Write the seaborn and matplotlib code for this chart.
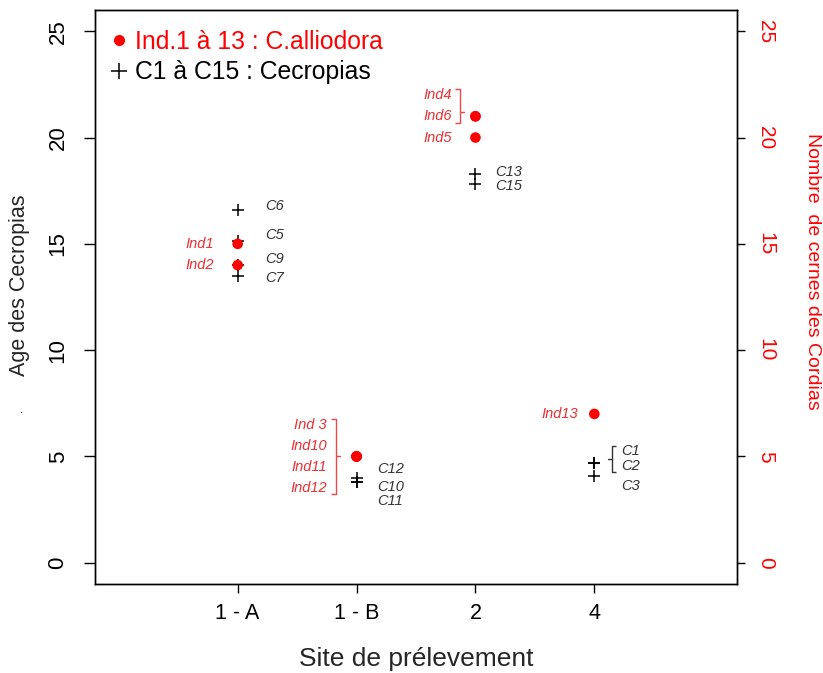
import matplotlib
matplotlib.use("Agg")
import matplotlib.pyplot as plt
import seaborn as sns
import pandas as pd
from matplotlib.lines import Line2D

# --- data ---
sites = ["1 - A", "1 - B", "2", "4"]

cordia_site = ["1 - A", "1 - A", "1 - B", "1 - B", "1 - B", "1 - B", "2", "2", "2", "4"]
cordia_id = ["Ind1", "Ind2", "Ind 3", "Ind10", "Ind11", "Ind12", "Ind4", "Ind6", "Ind5", "Ind13"]
cordia_rings = [15, 14, 5, 5, 5, 5, 21, 21, 20, 7]

cecropia_site = ["1 - A", "1 - A", "1 - A", "1 - A", "1 - B", "1 - B", "1 - B",
                 "2", "2", "4", "4", "4"]
cecropia_id = ["C6", "C5", "C9", "C7", "C12", "C10", "C11", "C13", "C15", "C1", "C2", "C3"]
cecropia_age = [16.6, 15.15, 14, 13.5, 4.0, 3.8, 3.8, 18.3, 17.8, 4.7, 4.7, 4.1]

# label placement (layout only)
cordia_label_y = [15, 14, 6.5, 5.5, 4.5, 3.5, 22, 21, 20, 7]
cordia_label_dx = {"1 - A": -0.2, "1 - B": -0.25, "2": -0.2, "4": -0.14}
cecropia_label_y = [16.8, 15.4, 14.3, 13.4, 4.43, 3.58, 2.92, 18.4, 17.7, 5.24, 4.53, 3.63]
cecropia_label_dx = {"1 - A": 0.23, "1 - B": 0.17, "2": 0.17, "4": 0.23}

pos = {s: i + 1 for i, s in enumerate(sites)}
cordia = pd.DataFrame({"site": cordia_site, "id": cordia_id, "rings": cordia_rings})
cordia["x"] = cordia["site"].map(pos)
cecropia = pd.DataFrame({"site": cecropia_site, "id": cecropia_id, "age": cecropia_age})
cecropia["x"] = cecropia["site"].map(pos)

RED = "#FF0000"
LABEL_RED = "#EE2E31"
LABEL_GREY = "#333333"

sns.set_style("white")
plt.rcParams["font.family"] = ["Liberation Sans", "DejaVu Sans"]

fig = plt.figure(figsize=(8.23, 6.73), dpi=100)
ax = fig.add_axes([95 / 823, 1 - 584 / 673, 642 / 823, 574 / 673])

sns.scatterplot(data=cecropia, x="x", y="age", marker="+", s=72, color="black",
                linewidth=1.1, ax=ax, legend=False, zorder=3)
sns.scatterplot(data=cordia, x="x", y="rings", marker="o", s=58, color=RED,
                edgecolor="none", ax=ax, legend=False, zorder=4)

ax.set_xlim(-0.2, 5.2)
ax.set_ylim(-1, 26)
ax.set_xticks(range(1, len(sites) + 1))
ax.set_xticklabels(sites, fontsize=15.5)
ax.set_yticks(range(0, 26, 5))
ax.set_yticklabels([str(v) for v in range(0, 26, 5)], rotation=90, va="center", fontsize=16)
ax.set_xlabel("")
ax.set_ylabel("")
ax.tick_params(axis="x", direction="out", length=6.5, width=1, pad=7, bottom=True, colors="black")
ax.tick_params(axis="y", direction="out", length=8, width=1, pad=11, left=True, colors="black")
for sp in ax.spines.values():
    sp.set_visible(True)
    sp.set_color("black")
    sp.set_linewidth(1)

ax2 = ax.twinx()
ax2.set_ylim(ax.get_ylim())
ax2.set_yticks(range(0, 26, 5))
ax2.set_yticklabels([str(v) for v in range(0, 26, 5)], rotation=-90, va="center",
                    fontsize=15, color=RED)
ax2.tick_params(axis="y", direction="out", length=6, width=1, pad=8, right=True, colors="black",
                labelcolor=RED)
for sp in ax2.spines.values():
    sp.set_color("black")
    sp.set_linewidth(1)

# point labels
for i, row in cordia.iterrows():
    ax.text(row["x"] + cordia_label_dx[row["site"]], cordia_label_y[i], row["id"],
            ha="right", va="center", fontsize=10.5, style="italic", color=LABEL_RED)
for i, row in cecropia.iterrows():
    ax.text(row["x"] + cecropia_label_dx[row["site"]], cecropia_label_y[i], row["id"],
            ha="left", va="center", fontsize=10.5, style="italic", color=LABEL_GREY)


def bracket(x, y_top, y_bot, hook, color, mid=None):
    # vertical bar with hooks at both ends and a tick in the middle pointing the other way
    if mid is None:
        mid = (y_top + y_bot) / 2
    ax.plot([x + hook, x, x, x + hook], [y_top, y_top, y_bot, y_bot], color=color, lw=1,
            solid_capstyle="butt", zorder=2)
    ax.plot([x, x - hook], [mid, mid], color=color, lw=1, zorder=2)


bracket(pos["1 - B"] - 0.176, cordia_label_y[2] + 0.25, cordia_label_y[5] - 0.25, -0.035, "#F04848")
bracket(pos["2"] - 0.134, cordia_label_y[6] + 0.3, cordia_label_y[7] - 0.3, -0.035, "#F04848",
        mid=cordia_rings[7] + 0.2)
bracket(pos["4"] + 0.15, cecropia_label_y[9] + 0.27, cecropia_label_y[10] - 0.27, 0.035, LABEL_GREY)

# legend
handles = [
    Line2D([0], [0], marker="o", ls="", color=RED, markersize=8, markeredgewidth=0),
    Line2D([0], [0], marker="+", ls="", color="black", markersize=11, markeredgewidth=1.1),
]
ax.legend(handles, ["Ind.1 à 13 : C.alliodora", "C1 à C15 : Cecropias"], loc="upper left",
          bbox_to_anchor=(-5 / 642, 1 - 3 / 574), frameon=False, fontsize=17.8,
          labelcolor=[RED, "black"], handlelength=0.95, handletextpad=0.18,
          labelspacing=0.27, borderaxespad=0.38, borderpad=0.3)

# axis titles
fig.text(416 / 823, 1 - 659 / 673, "Site de prélevement", ha="center", va="center", fontsize=19)
fig.text(20 / 823, 1 - 285 / 673, "Age des Cecropias", ha="center", va="center",
         rotation=90, fontsize=15.5)
fig.text(22 / 823, 1 - 410 / 673, ".", ha="center", va="center", fontsize=9)
fig.text(812 / 823, 1 - 271 / 673, "Nombre  de cernes des Cordias", ha="center", va="center",
         rotation=-90, fontsize=14, color=RED)

fig.savefig("out.png", dpi=100)
